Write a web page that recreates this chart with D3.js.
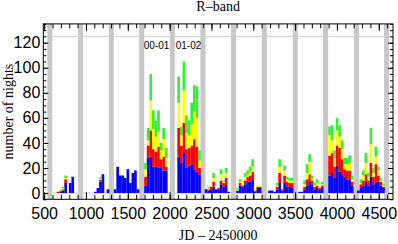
<!DOCTYPE html>
<html><head><meta charset="utf-8">
<script src="https://cdn.jsdelivr.net/npm/d3@7"></script>
<style>body{margin:0;background:#fff}svg{display:block}</style>
</head><body><svg id="c" width="398" height="244"></svg>
<script>
// ---- data ----
const binJD = [
  666,696,726,756,811,841,
  1112,1142,1172,1202,1262,
  1348,1378,1409,1439,1469,1500,1530,1560,1590,1621,
  1711,1742,1773,1804,1835,1866,1897,1928,1959,
  2107,2138,2169,2200,2232,2263,2294,2325,2356,
  2435,2465,2494,2524,2554,2584,2614,2644,2674,2704,
  2811,2841,2871,2901,2931,2961,2991,3021,3051,3081,
  3194,3224,3254,3284,3314,3344,3374,3404,3434,3464,
  3552,3582,3612,3642,3672,3702,3732,3762,3792,3822,
  3911,3941,3971,4001,4031,4061,4091,4121,4151,4181,
  4255,4285,4315,4345,4375,4405,4435,4465,4495,4525,4555
];
const blue = [
  0,1,2,8,8,13,
  1,4,9,15,3,
  3,21,14,14,12,19,8,16,18,3,
  6,28,29,21,21,20,20,18,18,
  29,24,32,20,22,23,19,17,15,
  3,2,3,5,3,3,7,5,7,1,
  2,6,5,7,9,9,11,1,4,4,
  2,2,1,3,8,2,8,5,5,4,
  1,1,3,6,9,7,3,4,3,4,
  14,16,12,22,17,15,13,11,11,6,
  2,4,6,9,6,13,7,9,9,6,4
];
const red = [
  1,1,1,3,0,0,
  0,0,1.5,0,0,
  0,0,0,0,0,0,0,0,0,0,
  7,10,21,14,12,17,7,11,3,
  23,14,24,15,14,15,24,20,5,
  0,1,2,4,0,1,3,3,5,0,
  0,2,1,3,4,5,6,1,1,1,
  0,0,0,2,8,1,6,4,3,4,
  0,0,2,5,6,3,2,2,1,2,
  16,16,9,16,19,12,6,7,7,3,
  0,3,4,6,4,11,6,14,5,3,1
];
const yellow = [
  1,1,1,1,0,0,
  0,0,1,0,0,
  0,0,0,0,0,0,0,0,0,0,
  6,4,24,16,12,12,7,14,7,
  20,8,26,13,10,17,22,23,6,
  0,1,1,3,0,1,5,1,4,0,
  1,1,1,3,2,3,4,2,1,1,
  0,0,0,1,5,0,4,2,2,2,
  0,0,2,5,10,2,1,2,1,1,
  16,10,7,12,9,8,4,5,6,2,
  0,1,4,9,3,15,3,6,4,1,1
];
const green = [
  0,0,1,2,0,0,
  0,0,1.5,0,0,
  0,0,0,0,0,0,0,0,0,0,
  5,10,21,15,13,17,6,9,8,
  21,7,23,14,12,17,21,25,8,
  0,1,0,4,0,0,4,1,4,0,
  1,2,0,3,3,4,6,0,0,0,
  0,0,0,2,6,0,4,2,2,2,
  0,0,3,7,6,2,2,3,0,2,
  7,12,6,10,9,7,5,5,6,3,
  0,3,4,8,3,13,4,8,3,2,1
];
const binDays = 30;
const gapJD = [568,936,1303,1666,2033,2398,2763,3132,3502,3864,4233,4593];
const gapDays = 60;
const xTicks = [500,1000,1500,2000,2500,3000,3500,4000,4500];
const yTicks = [0,20,40,60,80,100,120];
const limitNights = 125;
const seasonLabels = ["00-01","01-02"];
const seasonGapJD = 2033;
const colors = {b:"#0000ff", r:"#ff0000", y:"#ffff00", g:"#33f033"};

// ---- chart ----
const svg = d3.select("#c");
const L = 43.3, R = 393, T = 23.9, B = 199.3;
const x = d3.scaleLinear().domain([490, 4670]).range([L, R]);
const y = d3.scaleLinear().domain([-5, 135]).range([B, T]);

svg.append("clipPath").attr("id","pc").append("rect")
  .attr("x", L).attr("y", T).attr("width", R-L).attr("height", B-T);
const plot = svg.append("g").attr("clip-path","url(#pc)");

// gray season gaps
plot.selectAll("rect.gap").data(gapJD).join("rect").attr("class","gap")
  .attr("x", d => x(d - gapDays/2)).attr("width", d => x(d + gapDays/2) - x(d - gapDays/2))
  .attr("y", T).attr("height", B - T).attr("fill", "#c8c8c8");

// reference lines
plot.append("line").attr("x1", L).attr("x2", R)
  .attr("y1", y(limitNights)).attr("y2", y(limitNights)).attr("stroke", "#cfcfcf").attr("stroke-width", 1);
plot.append("line").attr("x1", L).attr("x2", R)
  .attr("y1", y(0)).attr("y2", y(0)).attr("stroke", "#cfcfcf").attr("stroke-width", 1);

// stacked bars
const rows = binJD.map((jd, i) => ({jd, b: blue[i], r: red[i], y: yellow[i], g: green[i]}));
const stack = d3.stack().keys(["b","r","y","g"])(rows);
plot.selectAll("g.layer").data(stack).join("g").attr("class","layer")
  .attr("fill", d => colors[d.key])
  .selectAll("rect").data(d => d).join("rect")
  .attr("x", d => x(d.data.jd - binDays/2))
  .attr("width", d => x(d.data.jd + binDays/2) - x(d.data.jd - binDays/2) + 0.15)
  .attr("y", d => y(d[1]))
  .attr("height", d => Math.max(0, y(d[0]) - y(d[1])));

// axes
const minorX = d3.range(500, 4670, 100);
const minorY = d3.range(-5, 136, 5);
const tickFont = "'Liberation Sans', Arial, sans-serif";
function style(g){ g.select(".domain").remove(); g.selectAll("line").attr("stroke","#000"); }

svg.append("g").attr("transform", `translate(0,${B})`)
  .call(d3.axisBottom(x).tickValues(minorX).tickSize(-4.5).tickFormat("")).call(style);
svg.append("g").attr("transform", `translate(0,${B})`)
  .call(d3.axisBottom(x).tickValues(xTicks).tickSize(-7).tickPadding(8.5).tickFormat(d3.format("d")))
  .call(style).call(g => g.selectAll("text").attr("font-family", tickFont).attr("font-size", 16).attr("fill","#000"));
svg.append("g").attr("transform", `translate(0,${T})`)
  .call(d3.axisTop(x).tickValues(minorX).tickSize(-4.5).tickFormat("")).call(style);
svg.append("g").attr("transform", `translate(0,${T})`)
  .call(d3.axisTop(x).tickValues(xTicks).tickSize(-7).tickFormat("")).call(style);

svg.append("g").attr("transform", `translate(${L},0)`)
  .call(d3.axisLeft(y).tickValues(minorY).tickSize(-3).tickFormat("")).call(style);
svg.append("g").attr("transform", `translate(${L},0)`)
  .call(d3.axisLeft(y).tickValues(yTicks).tickSize(-5).tickPadding(3).tickFormat(d3.format("d")))
  .call(style).call(g => g.selectAll("text").attr("font-family", tickFont).attr("font-size", 16).attr("fill","#000"));
svg.append("g").attr("transform", `translate(${R},0)`)
  .call(d3.axisRight(y).tickValues(minorY).tickSize(-3).tickFormat("")).call(style);
svg.append("g").attr("transform", `translate(${R},0)`)
  .call(d3.axisRight(y).tickValues(yTicks).tickSize(-5).tickFormat("")).call(style);

svg.append("rect").attr("x", L).attr("y", T).attr("width", R-L).attr("height", B-T)
  .attr("fill","none").attr("stroke","#000").attr("stroke-width",1);

// season labels
const gx0 = x(seasonGapJD - gapDays/2), gx1 = x(seasonGapJD + gapDays/2);
svg.append("text").attr("x", gx0 - 0.5).attr("y", 48.5).attr("text-anchor","end")
  .attr("font-family", tickFont).attr("font-size", 10).text(seasonLabels[0]);
svg.append("text").attr("x", gx1 + 0.8).attr("y", 48.5).attr("text-anchor","start")
  .attr("font-family", tickFont).attr("font-size", 10).text(seasonLabels[1]);

// titles
const serif = "'Liberation Serif', 'Times New Roman', serif";
svg.append("text").attr("x", (L+R)/2).attr("y", 11).attr("text-anchor","middle")
  .attr("font-family", serif).attr("font-size", 14).text("R–band");
svg.append("text").attr("x", (L+R)/2).attr("y", 240).attr("text-anchor","middle")
  .attr("font-family", serif).attr("font-size", 14).text("JD – 2450000");
svg.append("text").attr("transform", `translate(12.5,${(T+B)/2}) rotate(-90)`).attr("text-anchor","middle")
  .attr("font-family", serif).attr("font-size", 14).text("number of nights");
</script>
</body></html>
